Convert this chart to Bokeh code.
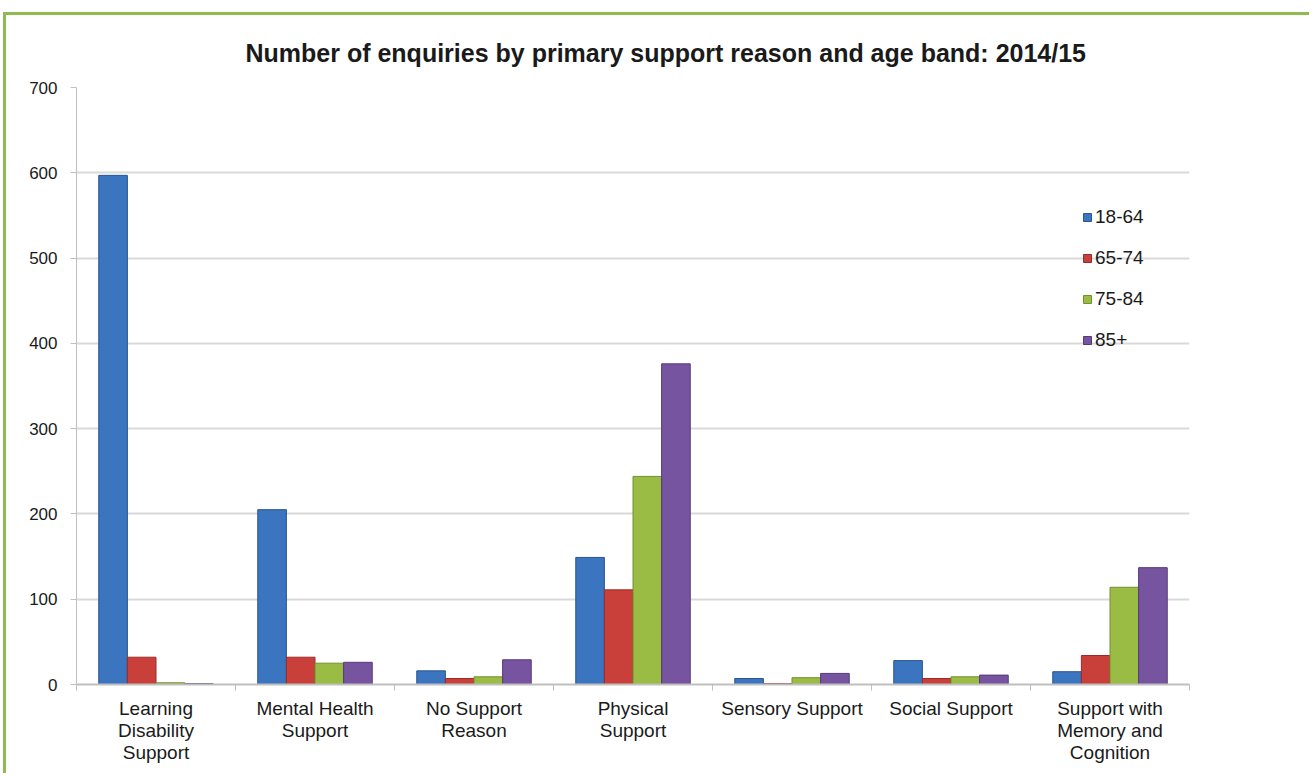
import numpy as np
from bokeh.plotting import figure
from bokeh.models import FixedTicker, Range1d, Legend, LegendItem, ColumnDataSource
from bokeh.embed import file_html
from bokeh.resources import INLINE

categories = ["Learning\nDisability\nSupport", "Mental Health\nSupport", "No Support\nReason",
              "Physical\nSupport", "Sensory Support", "Social Support",
              "Support with\nMemory and\nCognition"]
age_bands = ["18-64", "65-74", "75-84", "85+"]
v_18_64 = [597, 205, 16, 149, 7, 28, 15]
v_65_74 = [32, 32, 7, 111, 1, 7, 34]
v_75_84 = [2, 25, 9, 244, 8, 9, 114]
v_85_plus = [1, 26, 29, 376, 13, 11, 137]
y_ticks = [0, 100, 200, 300, 400, 500, 600, 700]

series = [v_18_64, v_65_74, v_75_84, v_85_plus]
colors = ["#3b74bf", "#c9403b", "#9abb44", "#7754a0"]
edges = ["#2a5590", "#9a2c28", "#73902f", "#563a78"]

FONT = "Liberation Sans"

p = figure(width=1306, height=761, output_backend="svg", toolbar_location=None,
           x_range=Range1d(0, len(categories)), y_range=Range1d(0, 700),
           min_border_left=70, min_border_right=123, min_border_top=72, min_border_bottom=92,
           title="Number of enquiries by primary support reason and age band: 2014/15")
p.styles = {"border-top": "3px solid #8fbc4f", "border-left": "3px solid #8fbc4f",
            "margin-top": "12px", "margin-left": "3px"}

p.title.text_font = FONT
p.title.text_font_size = "25px"
p.title.text_font_style = "bold"
p.title.text_color = "#1a1a1a"
p.title.align = "left"
p.title.offset = 169
p.title.standoff = 42

idx = np.arange(len(categories)) + 0.5
bw = 0.18
offsets = [-1.5 * bw, -0.5 * bw, 0.5 * bw, 1.5 * bw]
items = []
for name, vals, c, e, off in zip(age_bands, series, colors, edges, offsets):
    src = ColumnDataSource(dict(x=idx + off, top=vals))
    r = p.vbar(x="x", top="top", width=bw, bottom=0, source=src,
               fill_color=c, line_color=e, line_width=1)
    items.append(LegendItem(label=name, renderers=[r]))

legend = Legend(items=items, location=(1006, 333), label_text_font=FONT,
                label_text_font_size="19px", label_text_color="#1a1a1a",
                glyph_width=10, glyph_height=10, label_height=20, spacing=19,
                padding=0, margin=0, background_fill_alpha=0, border_line_alpha=0,
                label_standoff=3)
p.add_layout(legend)

p.outline_line_color = None
p.xgrid.grid_line_color = None
p.ygrid.grid_line_color = "#d9d9d9"
p.ygrid.grid_line_width = 2
p.ygrid.ticker = FixedTicker(ticks=y_ticks)

p.yaxis.ticker = FixedTicker(ticks=y_ticks)
p.yaxis.axis_line_color = "#bfbfbf"
p.yaxis.major_tick_line_color = "#bfbfbf"
p.yaxis.major_tick_out = 6
p.yaxis.major_tick_in = 0
p.yaxis.minor_tick_line_color = None
p.yaxis.major_label_text_font = FONT
p.yaxis.major_label_text_font_size = "17px"
p.yaxis.major_label_text_color = "#1a1a1a"
p.yaxis.major_label_standoff = 13

p.xaxis.ticker = FixedTicker(ticks=list(idx), minor_ticks=list(range(len(categories) + 1)))
p.xaxis.major_label_overrides = {float(x): c for x, c in zip(idx, categories)}
p.xaxis.major_tick_line_color = None
p.xaxis.minor_tick_line_color = "#bfbfbf"
p.xaxis.minor_tick_out = 6
p.xaxis.minor_tick_in = 0
p.xaxis.axis_line_color = "#bfbfbf"
p.xaxis.axis_line_width = 2
p.xaxis.major_label_text_font = FONT
p.xaxis.major_label_text_font_size = "19px"
p.xaxis.major_label_text_line_height = 1.05
p.xaxis.major_label_text_color = "#1a1a1a"
p.xaxis.major_label_standoff = 7

open("out.html", "w").write(file_html(p, INLINE))
